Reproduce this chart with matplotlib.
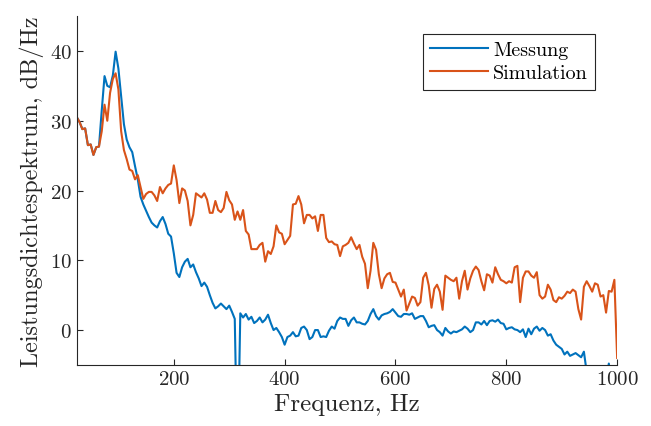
import numpy as np
import matplotlib
matplotlib.use('Agg')
import matplotlib.pyplot as plt

# Frequenzachse (5 Hz Raster)
freq = np.arange(25, 1001, 5)

# Simulation (orange)
simulation = [
    30.5, 29.8, 28.8, 28.9, 26.5, 26.6, 25.1, 26.2, 26.3, 28.5,
    32.3, 30.0, 34.0, 36.0, 36.8, 34.5, 28.5, 25.8, 24.5, 23.0,
    22.8, 21.6, 22.2, 20.5, 18.8, 19.5, 19.8, 19.8, 19.3, 18.5,
    20.5, 19.6, 20.3, 20.8, 21.0, 23.6, 21.5, 18.2, 20.3, 20.0,
    18.5, 15.0, 16.5, 19.6, 19.3, 19.0, 19.6, 18.7, 16.8, 16.8,
    18.5, 17.2, 16.9, 17.5, 19.8, 18.6, 18.0, 15.8, 17.0, 15.8,
    17.2, 14.2, 13.7, 11.6, 11.6, 11.6, 12.2, 12.5, 9.8, 11.3,
    10.9, 12.0, 15.0, 14.0, 13.8, 12.3, 12.9, 13.5, 18.0, 18.1,
    19.2, 18.0, 15.3, 16.5, 16.5, 16.0, 16.3, 14.2, 16.5, 16.5,
    13.2, 12.6, 12.7, 12.3, 12.2, 10.6, 12.0, 12.2, 12.5, 13.3,
    12.4, 11.6, 12.2, 10.5, 9.5, 6.0, 8.5, 12.5, 11.5, 8.0,
    6.0, 7.4, 8.0, 8.2, 6.9, 6.8, 5.8, 4.8, 5.8, 2.8,
    3.8, 4.8, 4.6, 3.5, 4.0, 7.5, 8.2, 6.4, 3.2, 5.9,
    6.5, 5.5, 2.9, 7.8, 7.5, 7.2, 7.0, 7.5, 4.5, 7.0,
    8.5, 5.8, 7.4, 8.5, 9.1, 8.6, 7.0, 5.7, 8.0, 7.8,
    6.8, 9.0, 8.0, 7.2, 7.0, 6.7, 7.0, 6.8, 9.0, 9.2,
    4.0, 7.5, 8.4, 8.4, 7.8, 7.5, 8.3, 5.0, 4.5, 4.8,
    6.5, 5.8, 4.3, 4.0, 4.7, 4.5, 4.9, 5.5, 5.3, 5.8,
    5.5, 3.0, 1.5, 6.2, 7.0, 6.3, 5.5, 6.7, 6.5, 4.8,
    5.0, 2.5, 5.6, 5.5, 7.2, -4.0,
]

# Messung (blau)
messung = [
    30.5, 29.8, 28.8, 28.9, 26.5, 26.6, 25.1, 26.2, 26.3, 31.5,
    36.4, 35.0, 34.8, 36.5, 39.9, 37.5, 33.5, 29.5, 27.3, 26.2,
    25.5, 23.5, 21.6, 19.1, 18.0, 17.1, 16.2, 15.4, 15.0, 14.7,
    15.6, 16.2, 15.2, 13.8, 13.4, 11.0, 8.2, 7.6, 9.0, 9.8,
    10.2, 9.0, 9.4, 8.3, 7.4, 6.3, 6.8, 6.2, 5.0, 3.9,
    3.1, 3.4, 3.8, 3.4, 3.0, 3.5, 2.6, 1.6, -20.0, 2.4,
    1.8, 2.3, 1.5, 1.9, 1.0, 1.3, 1.8, 1.1, 1.5, 2.2,
    1.0, 0.0, 0.3, -0.3, -1.0, -2.1, -1.0, -0.8, -0.3, -0.9,
    -0.8, 0.3, 0.5, 0.0, -1.3, -1.0, 0.0, 0.0, -1.0, -0.9,
    -1.0, -0.1, 0.5, 0.2, 1.3, 1.8, 1.6, 1.6, 0.6, 1.4,
    1.8, 1.1, 1.1, 0.9, 0.8, 1.3, 2.3, 3.0, 2.0, 1.5,
    2.1, 2.3, 2.4, 2.6, 3.0, 2.5, 2.0, 1.9, 2.3, 2.3,
    2.2, 2.4, 1.6, 1.8, 2.0, 2.0, 1.3, 0.4, 0.6, 0.7,
    0.0, -0.3, -0.8, 0.3, -0.2, -0.5, -0.2, -0.3, -0.1, 0.1,
    0.5, 0.2, -0.3, 0.0, 1.1, 1.1, 0.8, 1.3, 0.7, 1.3,
    1.4, 1.2, 1.5, 1.0, 0.9, 0.1, 0.3, 0.4, 0.1, 0.0,
    -0.3, 0.1, -1.0, 0.2, -0.6, 0.2, 0.5, -0.1, 0.3, 0.0,
    -0.8, -0.6, -1.5, -2.1, -2.4, -2.7, -3.5, -3.1, -3.7, -3.5,
    -3.3, -3.6, -3.9, -3.1, -6.0, -7.0, -8.0, -7.0, -8.0, -7.0,
    -6.5, -7.0, -4.8, -8.0, -7.0, -8.0,
]

plt.rcParams['font.family'] = 'serif'
plt.rcParams['font.serif'] = ['cmr10']
plt.rcParams['mathtext.fontset'] = 'cm'
plt.rcParams['axes.formatter.use_mathtext'] = True

fig = plt.figure(figsize=(6.51, 4.27), dpi=100)
ax = fig.add_axes([0.118, 0.143, 0.830, 0.817])

ax.plot(freq, messung, color='#0072BD', lw=1.5, label='Messung')
ax.plot(freq, simulation, color='#D95319', lw=1.5, label='Simulation')

ax.set_xlim(25, 1000)
ax.set_ylim(-5, 45)
ax.set_xticks([200, 400, 600, 800, 1000])
ax.set_yticks([0, 10, 20, 30, 40])
ax.tick_params(direction='in', length=4, width=0.8, labelsize=15, colors='#262626')
for s in ['top', 'right']:
    ax.spines[s].set_visible(False)
for s in ['left', 'bottom']:
    ax.spines[s].set_color('#262626')
    ax.spines[s].set_linewidth(0.8)

ax.set_xlabel('Frequenz, Hz', fontsize=18, color='#262626')
ax.set_ylabel('Leistungsdichtespektrum, dB/Hz', fontsize=17.5, color='#262626')

leg = ax.legend(loc='upper right', bbox_to_anchor=(0.959, 0.948), fontsize=14.5,
                fancybox=False, framealpha=1, edgecolor='#262626', borderaxespad=0,
                handlelength=2.9, handletextpad=0.25, borderpad=0.35, labelspacing=0.25)
leg.get_frame().set_linewidth(0.8)

fig.savefig('out.png', dpi=100)
